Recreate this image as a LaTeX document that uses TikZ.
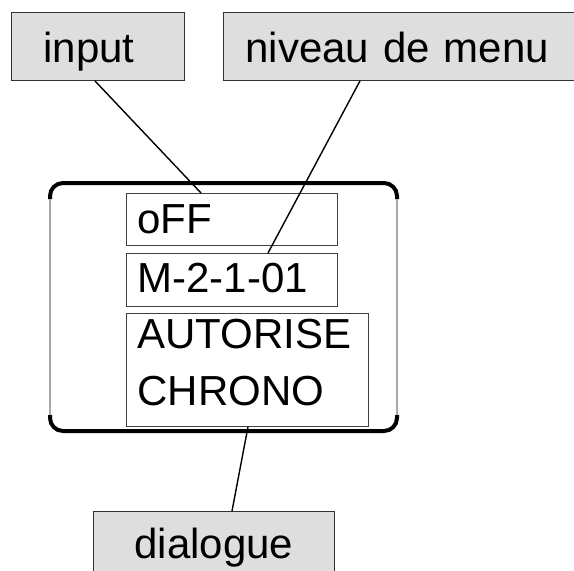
\documentclass[tikz,border=0pt]{standalone}
\usepackage{fontspec}
\setmainfont{Liberation Sans}
\usetikzlibrary{positioning}
\definecolor{tagfill}{HTML}{DEDEDE}
\definecolor{sidegray}{HTML}{A8A8A8}

\begin{document}
\begin{tikzpicture}[x=1pt, y=-1pt,
    tag/.style={draw=black!80, line width=0.9pt, fill=tagfill, inner sep=0pt, anchor=north west, font=\fontsize{42}{57}\selectfont, text height=50pt, text depth=18pt},
    lcd/.style={draw=black!75, line width=0.8pt, inner sep=0pt, inner xsep=11pt, anchor=north west, align=left, font=\fontsize{42}{57}\selectfont},
    wire/.style={line width=1.4pt}]
    \useasboundingbox (0,0) rectangle (574,571);
    \clip (0,0) rectangle (574,571);
    % labels
    \node[tag, text width=109pt, inner xsep=32pt, align=left] (input) at (11,12) {input};
    \node[tag, text width=313pt, inner xsep=22pt, align=left] (niveau) at (223,12) {niveau de menu};
    \node[tag, text width=241pt, align=center, text height=47pt] (dialogue) at (93,511) {dialogue};
    % display
    \draw[line width=4pt, rounded corners=13pt] (50,199) -- (50,183) -- (397,183) -- (397,199);
    \draw[line width=4pt, rounded corners=13pt] (50,415) -- (50,431) -- (397,431) -- (397,415);
    \draw[sidegray, line width=1.2pt] (50,199) -- (50,415) (397,199) -- (397,415);
    \node[lcd, text width=189pt, text height=40pt, text depth=12pt] (off) at (126,193) {oFF};
    \node[lcd, text width=189pt, text height=39pt, text depth=14pt] (menu) at (126,253) {M-2-1-01};
    \node[lcd, text width=220pt, text height=35pt, text depth=78pt] (autorise) at (126,313) {AUTORISE\\CHRONO};
    % connectors
    \draw[wire] ([xshift=-3pt]input.south) -- ([xshift=75pt]off.north west);
    \draw[wire] ([xshift=137pt]niveau.south west) -- ([xshift=142pt]menu.north west);
    \draw[wire] ([xshift=122pt]autorise.south west) -- ([xshift=139pt]dialogue.north west);
\end{tikzpicture}
\end{document}
